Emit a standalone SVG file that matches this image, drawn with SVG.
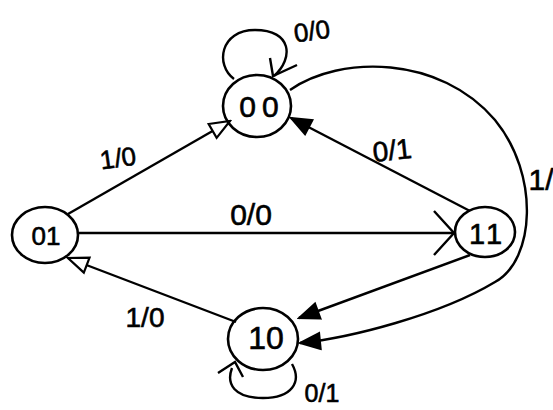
<svg xmlns="http://www.w3.org/2000/svg" width="553" height="410" viewBox="0 0 553 410">
<style>
.n{fill:none;stroke:#000;stroke-width:2.6}
.e{fill:none;stroke:#000;stroke-width:2.4}
.t{font-family:"Liberation Sans",Arial,sans-serif;fill:#000;stroke:#000;stroke-width:0.6;text-anchor:middle}
</style>
<defs>
<marker id="open" viewBox="-2 -2 24 20" refX="20" refY="8" markerWidth="24" markerHeight="20" markerUnits="userSpaceOnUse" orient="auto">
<path d="M0,0 L20,8 L0,16 Z" fill="#fff" stroke="#000" stroke-width="2.2"/>
</marker>
<marker id="fill" viewBox="-2 -2 24 20" refX="20" refY="8" markerWidth="24" markerHeight="20" markerUnits="userSpaceOnUse" orient="auto">
<path d="M0,0 L20,8 L0,16 Z" fill="#000" stroke="#000" stroke-width="2"/>
</marker>
<marker id="chev" viewBox="-2 -2 24 48" refX="20" refY="22" markerWidth="24" markerHeight="48" markerUnits="userSpaceOnUse" orient="auto">
<path d="M0,0 L20,22 L0,44" fill="none" stroke="#000" stroke-width="2.4"/>
</marker>
</defs>
<rect width="553" height="410" fill="#fff"/>
<g id="connectors">
<path class="e" d="M68,214 L230,121" marker-end="url(#open)"/>
<path class="e" d="M470,211 L291,118" marker-end="url(#fill)"/>
<path class="e" d="M79,233 L454,233" marker-end="url(#chev)"/>
<path class="e" d="M236,322 L68,258" marker-end="url(#open)"/>
<path class="e" d="M470,255 L299,318" marker-end="url(#fill)"/>
<path class="e" d="M290,90 C340,55 440,55 495,120 C540,175 535,260 495,282 C440,315 350,338 300,343" marker-end="url(#fill)"/>
<path class="e" d="M234,79 C215,65 220,30 255,30 C292,30 294,58 274,76"/>
<path class="e" d="M270,58 L273,76 L297,65"/>
<path class="e" d="M292,364 C302,382 292,398 263,398 C234,398 226,384 232,368"/>
<path class="e" d="M218,373 L235,362 L243,377"/>
<text class="t" x="312" y="40" font-size="26" transform="rotate(-8 312 32)">0/0</text>
<text class="t" x="118" y="167" font-size="26" transform="rotate(-8 118 158)">1/0</text>
<text class="t" x="392" y="160" font-size="28" transform="rotate(-6 392 150)">0/1</text>
<text class="t" x="251" y="225" font-size="30">0/0</text>
<text class="t" x="145" y="327" font-size="28">1/0</text>
<text class="t" x="322" y="402" font-size="25">0/1</text>
<text class="t" x="541" y="190" font-size="30">1/</text>
</g>
<g id="s00">
<ellipse class="n" cx="257" cy="106" rx="34" ry="31"/>
<text class="t" x="262" y="117" font-size="30" letter-spacing="6">00</text>
</g>
<g id="s01">
<ellipse class="n" cx="45" cy="235" rx="33" ry="28"/>
<text class="t" x="46" y="245" font-size="26">01</text>
</g>
<g id="s11">
<ellipse class="n" cx="485" cy="232" rx="30" ry="25"/>
<text class="t" x="487" y="244" font-size="29" letter-spacing="3">11</text>
</g>
<g id="s10">
<ellipse class="n" cx="263" cy="339" rx="35" ry="31"/>
<text class="t" x="266" y="349" font-size="32">10</text>
</g>
</svg>
